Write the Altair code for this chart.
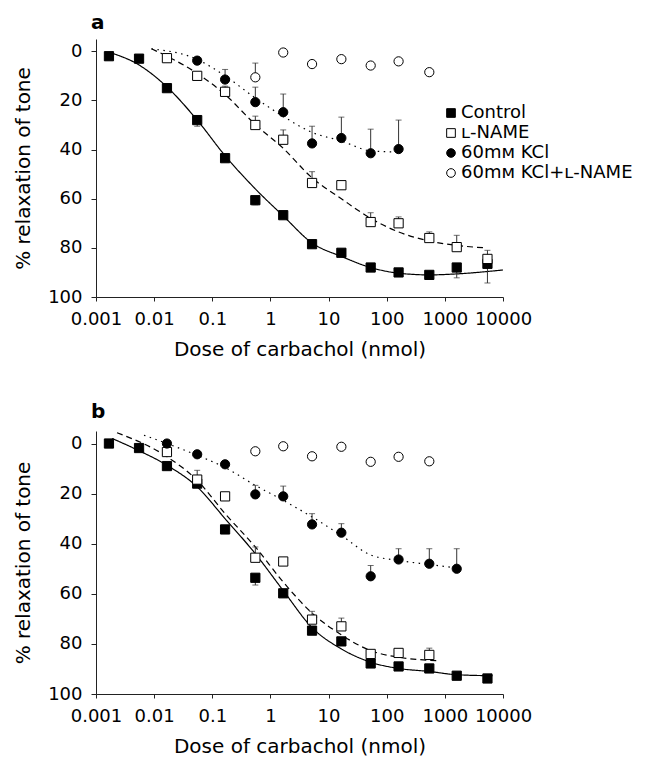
import altair as alt
import pandas as pd
import numpy as np

FONT = "DejaVu Sans"
SERIES = ["Control", "ʟ-NAME", "60mᴍ KCl", "60mᴍ KCl+ʟ-NAME"]

# doses (nmol) used for the data points
doses = [0.00167, 0.0055, 0.0166, 0.055, 0.166, 0.55, 1.66, 5.2, 16.6, 53, 160, 540, 1600, 5400]
x_ticks = [0.001, 0.01, 0.1, 1, 10, 100, 1000, 10000]
y_ticks = [0, 20, 40, 60, 80, 100]

# ---------------- panel a ----------------
a_ctrl = [2, 3, 15, 28, 43.5, 60.6, 66.7, 78.5, 82, 88, 90, 91, 88, 86.5]
a_ctrl_err = [None, None, None, 30.5, None, 62.5, None, None, None, None, None, None, 92.2, 94.3]
a_lname = [2.8, 10, 16.5, 30, 36, 53.6, 54.5, 69.5, 70, 76, 79.7, 84.5]            # doses[2:]
a_lname_err = [None, None, 14.2, 26.4, 32, 49, None, 65.7, 67.4, 73.5, 74.9, 81]
a_kcl = [3.8, 11.5, 20.7, 24.8, 37.5, 35.3, 41.5, 39.8]                             # doses[3:11]
a_kcl_err = [None, 7.4, 14.6, 17.4, 30.5, 26.8, 31.7, 28]
a_kl = [10.6, 0.5, 5.2, 3.2, 5.8, 4.1, 8.5]                                          # doses[5:12]
a_kl_err = [4.8, None, None, None, None, None, None]

a_ctrl_fit_x = [0.0019, 0.005, 0.0166, 0.055, 0.166, 0.55, 1.66, 5.2, 16.6, 53, 160, 540, 1600, 10000]
a_ctrl_fit_y = [0.8, 5, 14.5, 28, 42.5, 56, 67, 78, 83.5, 88, 90.3, 91, 90.6, 89]
a_lname_fit_x = [0.009, 0.0166, 0.055, 0.166, 0.55, 1.66, 5.2, 16.6, 53, 160, 540, 1600, 5000]
a_lname_fit_y = [-1, 2, 9, 17.6, 29.8, 39.5, 51.5, 60, 68, 73.5, 77.2, 79, 80]
a_kcl_fit_x = [0.009, 0.055, 0.166, 0.55, 1.66, 5.2, 16.6, 53, 160]
a_kcl_fit_y = [-1, 3.3, 10, 19, 26.5, 33, 36.5, 40.5, 41]

# ---------------- panel b ----------------
b_ctrl = [0, 1.8, 9, 16, 34.3, 53.6, 59.8, 74.7, 79, 87.8, 89, 89.8, 92.7, 93.8]
b_ctrl_err = [None, None, None, None, None, 56.5, None, None, None, None, None, None, None, None]
b_lname = [3.4, 14.4, 21.1, 45.6, 47.1, 70.3, 73, 84, 83.6, 84.4]                   # doses[2:12]
b_lname_err = [None, 10.7, None, 41.3, None, 67, 69.7, None, None, 81.7]
b_kcl = [0, 4.3, 8.3, 20.3, 21.1, 32.3, 35.6, 53, 46.3, 48, 50]                     # doses[2:13]
b_kcl_err = [None, None, None, 16.7, 17, 28, 32, 48.7, 42, 42, 42]
b_kl = [3.1, 1.1, 5.1, 1.3, 7.3, 5.3, 7.1]                                           # doses[5:12]

b_ctrl_fit_x = [0.0019, 0.0053, 0.0167, 0.055, 0.166, 0.55, 1.66, 5.2, 16.6, 53, 160, 540, 1600, 6600]
b_ctrl_fit_y = [-2, 2.7, 8.7, 17.3, 30, 44, 58.7, 73.5, 82, 87.3, 89.8, 91, 92.3, 92.7]
b_lname_fit_x = [0.0023, 0.0167, 0.055, 0.166, 0.55, 1.66, 5.2, 16.6, 53, 160, 800]
b_lname_fit_y = [-4.3, 5.3, 14.7, 28, 41.3, 55.3, 67.7, 76.4, 82.7, 85.3, 86.7]
b_kcl_fit_x = [0.0067, 0.0167, 0.055, 0.166, 0.55, 1.66, 5.2, 16.6, 53, 160, 540, 1600]
b_kcl_fit_y = [-3.3, 0, 4.7, 9.6, 16.7, 22.7, 29.3, 36.7, 44.5, 46.7, 48.3, 49.7]


def pts_frame(groups):
    rows = []
    for name, xs, ys, errs in groups:
        for i, (x, y) in enumerate(zip(xs, ys)):
            e = errs[i] if errs is not None else None
            rows.append({"dose": x, "pct": y, "series": name,
                         "err": np.nan if e is None else e})
    return pd.DataFrame(rows)


def fit_frame(groups):
    rows = []
    for name, xs, ys in groups:
        for x, y in zip(xs, ys):
            rows.append({"dose": x, "pct": y, "series": name})
    return pd.DataFrame(rows)


def panel(label, height, pts, fits, show_legend, title_offset):
    xenc = alt.X("dose:Q",
                 scale=alt.Scale(type="log", domain=[0.001, 10000], nice=False),
                 axis=alt.Axis(values=x_ticks, format="~g", title="Dose of carbachol (nmol)",
                               labelOverlap=False, tickSize=4, labelPadding=9,
                               titlePadding=11, labelFlush=False))
    yenc = alt.Y("pct:Q",
                 scale=alt.Scale(domain=[-5, 100], reverse=True, nice=False, zero=False),
                 axis=alt.Axis(values=y_ticks, title="% relaxation of tone",
                               tickSize=5, labelPadding=9, titlePadding=14))

    lines = alt.Chart(fits).mark_line(color="black", strokeWidth=1.2, interpolate="monotone").encode(
        x=xenc, y=yenc, detail="series:N",
        strokeDash=alt.StrokeDash("series:N",
                                  scale=alt.Scale(domain=SERIES[:3], range=[[1, 0], [6, 4], [1.5, 4.5]]),
                                  legend=None))

    errdf = pts.dropna(subset=["err"])
    rules = alt.Chart(errdf).mark_rule(color="#333", strokeWidth=1).encode(
        x=xenc, y=yenc, y2="err:Q")
    caps = alt.Chart(errdf).mark_point(shape="M-1,0L1,0", size=36, color="#333",
                                       strokeWidth=1, filled=False).encode(
        x=xenc, y=alt.Y("err:Q"))

    if show_legend:
        leg = alt.Legend(title=None, orient="none", legendX=346, legendY=65,
                         labelFont=FONT, labelFontSize=18, labelColor="black", labelLimit=400,
                         symbolStrokeColor="black", symbolStrokeWidth=1, symbolSize=75,
                         rowPadding=2, labelOffset=1, padding=0, symbolOpacity=1)
    else:
        leg = None
    pts_layer = alt.Chart(pts).mark_point(filled=True, strokeWidth=1,
                                          opacity=1, size=85).encode(
        x=xenc, y=yenc,
        shape=alt.Shape("series:N", scale=alt.Scale(domain=SERIES,
                        range=["square", "square", "circle", "circle"]), legend=leg),
        fill=alt.Fill("series:N", scale=alt.Scale(domain=SERIES,
                      range=["black", "white", "black", "white"]), legend=leg),
        stroke=alt.Stroke("series:N", scale=alt.Scale(domain=SERIES,
                          range=["black", "black", "black", "black"]), legend=leg))

    return alt.layer(lines, rules, caps, pts_layer).properties(
        width=407, height=height,
        title=alt.TitleParams(label, anchor="start", frame="group", font=FONT, fontSize=20,
                              fontWeight="bold", dx=-5, offset=title_offset, color="black"))


pts_a = pts_frame([
    ("Control", doses, a_ctrl, a_ctrl_err),
    ("ʟ-NAME", doses[2:], a_lname, a_lname_err),
    ("60mᴍ KCl", doses[3:11], a_kcl, a_kcl_err),
    ("60mᴍ KCl+ʟ-NAME", doses[5:12], a_kl, a_kl_err),
])
fits_a = fit_frame([
    ("Control", a_ctrl_fit_x, a_ctrl_fit_y),
    ("ʟ-NAME", a_lname_fit_x, a_lname_fit_y),
    ("60mᴍ KCl", a_kcl_fit_x, a_kcl_fit_y),
])
pts_b = pts_frame([
    ("Control", doses, b_ctrl, b_ctrl_err),
    ("ʟ-NAME", doses[2:12], b_lname, b_lname_err),
    ("60mᴍ KCl", doses[2:13], b_kcl, b_kcl_err),
    ("60mᴍ KCl+ʟ-NAME", doses[5:12], b_kl, None),
])
fits_b = fit_frame([
    ("Control", b_ctrl_fit_x, b_ctrl_fit_y),
    ("ʟ-NAME", b_lname_fit_x, b_lname_fit_y),
    ("60mᴍ KCl", b_kcl_fit_x, b_kcl_fit_y),
])

chart = alt.vconcat(
    panel("a", 258, pts_a, fits_a, True, 6),
    panel("b", 263, pts_b, fits_b, False, 8),
    spacing=43,
).resolve_scale(
    x="independent", y="independent", shape="independent", fill="independent",
    stroke="independent", strokeDash="independent"
).configure_view(stroke=None).configure_axis(
    grid=False, labelFont=FONT, labelFontSize=18, labelColor="black",
    titleFont=FONT, titleFontSize=20, titleFontWeight="normal", titleColor="black",
    domainColor="#222", tickColor="#222", domainWidth=1, tickWidth=1
)

chart.save("out.html", embed_options={"renderer": "svg", "actions": False})
